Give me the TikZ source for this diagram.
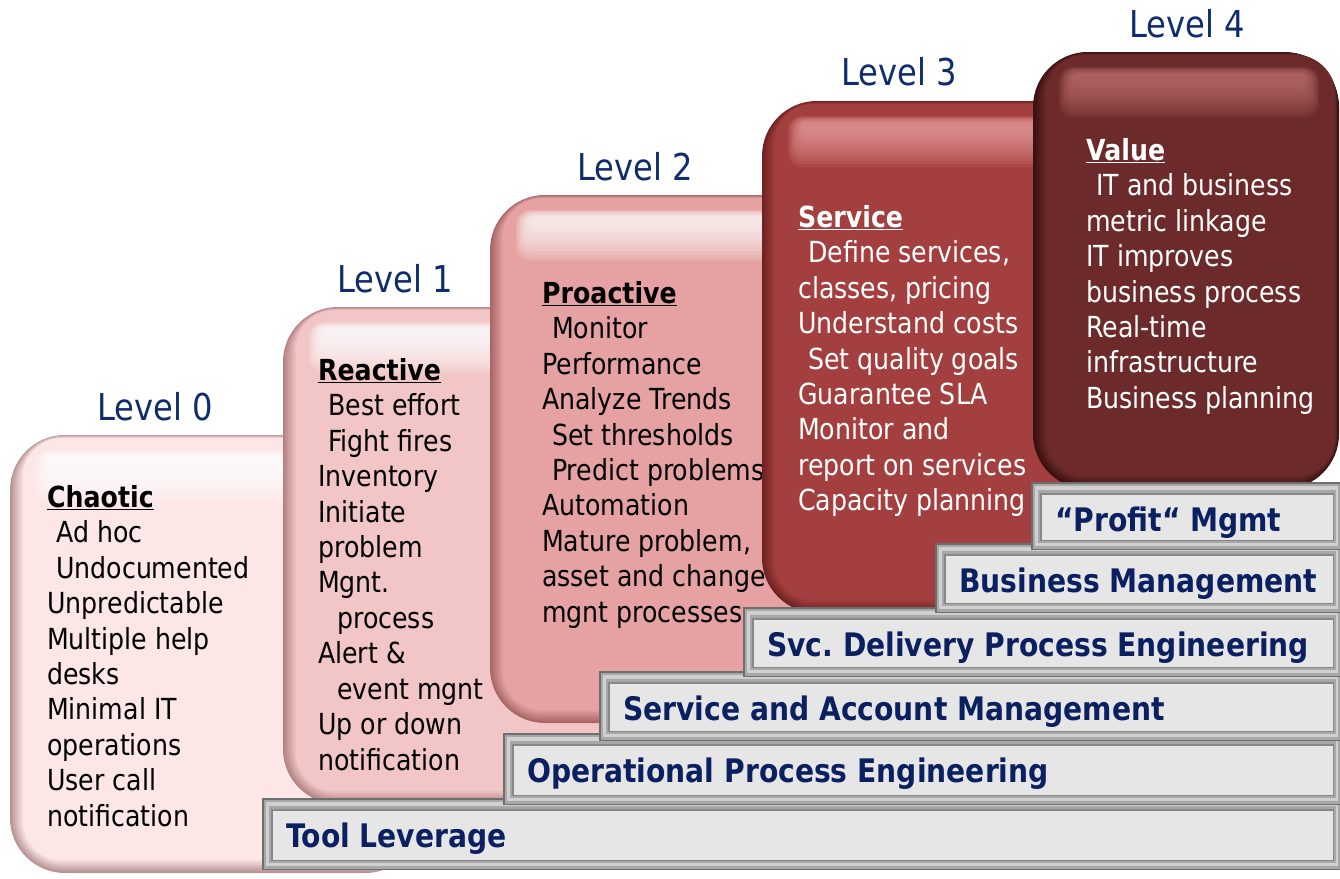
\documentclass[tikz,border=0pt]{standalone}
\usepackage{fontspec}
\setmainfont{DejaVu Sans}[FakeStretch=0.87]
\frenchspacing
\definecolor{bzbase}{HTML}{FCE6E6}\definecolor{bzedge}{HTML}{B89494}\definecolor{bzgloss}{HTML}{FFFFFF}
\definecolor{bobase}{HTML}{F2C6C6}\definecolor{boedge}{HTML}{B48282}\definecolor{bogloss}{HTML}{FFFFFF}
\definecolor{btbase}{HTML}{E6A2A2}\definecolor{btedge}{HTML}{A86666}\definecolor{btgloss}{HTML}{FFFFFF}
\definecolor{bhbase}{HTML}{A43F3F}\definecolor{bhedge}{HTML}{6E2222}\definecolor{bhgloss}{HTML}{F0A8A8}
\definecolor{bfbase}{HTML}{6C2A2A}\definecolor{bfedge}{HTML}{3A1010}\definecolor{bfgloss}{HTML}{C87878}
\definecolor{barline}{HTML}{6E6E6E}\definecolor{barbevel}{HTML}{A8A8A8}\definecolor{barhi}{HTML}{D0D0D0}
\definecolor{barinline}{HTML}{888888}\definecolor{barfill}{HTML}{E6E6E6}
\definecolor{bartxt}{HTML}{0A2060}\definecolor{lvltxt}{HTML}{0F2D6E}
\newcommand\stairbox[6]{% L T R B prefix glossopacity
  \foreach \i in {0,...,8}{%
    \pgfmathtruncatemacro\p{\i*100/8}%
    \fill[#5base!\p!#5edge, rounded corners={55-\i*2}] ({#1+\i*1.6},{#2+\i*0.4}) rectangle ({#3-\i*0.5},{#4-\i*1.6});
  }
  \foreach \j in {0,...,11}{%
    \fill[#5gloss, opacity=#6, rounded corners={14-\j*0.7}] ({#1+26+\j*1.2},{#2+15+\j*0.6}) rectangle ({#3-20-\j*1.2},{#2+66-\j*3.2});
  }
}
\newcommand\stairbar[5]{% name L T B text
  \fill[barline] (#2,#3) rectangle (1342,#4);
  \fill[barbevel] ({#2+1.5},{#3+1.5}) rectangle (1340.5,{#4-1.5});
  \fill[barhi] ({#2+4},{#3+4}) rectangle (1338,{#4-4});
  \fill[barbevel] ({#2+7},{#3+8}) rectangle (1336,{#4-7});
  \fill[barinline] ({#2+9},{#3+11}) rectangle (1334,{#4-9});
  \fill[barfill] ({#2+10.5},{#3+12.5}) rectangle (1332.5,{#4-10.5});
  \node[bartext] (#1) at ({#2+24},{#3+49}) {#5};
}
\begin{document}
\begin{tikzpicture}[x=1pt,y=-1pt,
  lvl/.style={anchor=base west, inner sep=0pt, text=lvltxt, font=\fontsize{37}{44}\selectfont},
  bodytxt/.style={anchor=north west, inner sep=0pt, align=left, font=\fontsize{29}{35.45}\selectfont},
  bartext/.style={anchor=base west, inner sep=0pt, text=bartxt, font=\bfseries\fontsize{32.4}{38}\selectfont}]
\useasboundingbox (0,0) rectangle (1340,878);
\fill[white] (0,0) rectangle (1340,878);
\newcommand\hd[1]{\rule{0pt}{25pt}\underline{\textbf{#1}}}
% Level 0
\stairbox{10}{435}{420}{873}{bz}{0.15}
\node[bodytxt] (t0) at (47,482) {\hd{Chaotic}\\\hspace*{9pt}Ad hoc\\\hspace*{9pt}Undocumented\\Unpredictable\\Multiple help\\desks\\Minimal IT\\operations\\User call\\notification};
\node[lvl] (l0) at (97,420) {Level 0};
% Level 1
\stairbox{283}{307}{640}{804}{bo}{0.13}
\node[bodytxt] (t1) at (318,355) {\hd{Reactive}\\\hspace*{10pt}Best effort\\\hspace*{10pt}Fight fires\\Inventory\\Initiate\\problem\\Mgnt.\\\hspace*{19pt}process\\Alert \&\\\hspace*{19pt}event mgnt\\Up or down\\notification};
\node[lvl] (l1) at (337,292) {Level 1};
% Level 2
\stairbox{490}{195}{870}{723}{bt}{0.11}
\node[bodytxt] (t2) at (542,278) {\hd{Proactive}\\\hspace*{10pt}Monitor\\Performance\\Analyze Trends\\\hspace*{10pt}Set thresholds\\\hspace*{10pt}Predict problems\\Automation\\Mature problem,\\asset and change\\mgnt processes};
\node[lvl] (l2) at (577,180) {Level 2};
% Level 3
\stairbox{762}{101}{1110}{613}{bh}{0.1}
\node[bodytxt, text=white] (t3) at (798,202) {\hd{Service}\\\hspace*{10pt}Define services,\\classes, pricing\\Understand costs\\\hspace*{10pt}Set quality goals\\Guarantee SLA\\Monitor and\\report on services\\Capacity planning};
\node[lvl] (l3) at (841,85) {Level 3};
% Level 4
\stairbox{1033}{52}{1339}{489}{bf}{0.1}
\node[bodytxt, text=white] (t4) at (1086,135) {\hd{Value}\\\hspace*{10pt}IT and business\\metric linkage\\IT improves\\business process\\Real-time\\infrastructure\\Business planning};
\node[lvl] (l4) at (1129,37) {Level 4};
% bars
\stairbar{tl}{262}{798}{870}{Tool Leverage}
\stairbar{ope}{503}{733}{805}{Operational Process Engineering}
\stairbar{sam}{599}{671}{741}{Service and Account Management}
\stairbar{sdp}{743}{607}{677}{Svc. Delivery Process Engineering}
\stairbar{bm}{935}{543}{613}{Business Management}
\stairbar{pm}{1031}{482}{550}{“Profit“ Mgmt}
\end{tikzpicture}
\end{document}
